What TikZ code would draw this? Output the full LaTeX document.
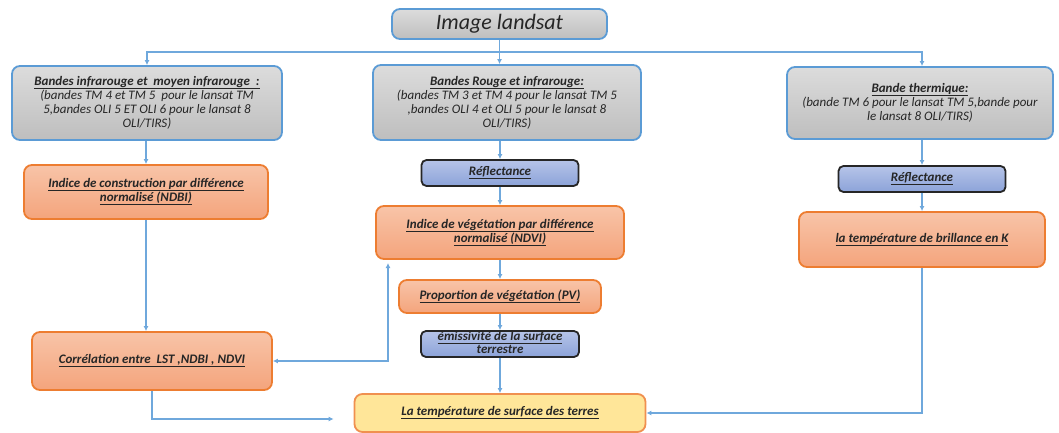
\documentclass[tikz,border=0pt]{standalone}
\usepackage{fontspec}
\setmainfont{Carlito}
\usetikzlibrary{arrows.meta}

\definecolor{bordbleu}{HTML}{5B9BD5}
\definecolor{gris1}{HTML}{DCDCDC}
\definecolor{gris2}{HTML}{BEBEBE}
\definecolor{oran1}{HTML}{F8C4A8}
\definecolor{oran2}{HTML}{F4A47C}
\definecolor{bordoran}{HTML}{ED7D31}
\definecolor{bleu1}{HTML}{B6C4E8}
\definecolor{bleu2}{HTML}{8CA3D9}
\definecolor{jaune}{HTML}{FFE699}
\definecolor{lienbleu}{HTML}{6FA8DC}

\newcommand{\souligne}[1]{\underline{\raisebox{0pt}[\height][1.2pt]{\textbf{#1}}}}

\begin{document}
\begin{tikzpicture}[x=1pt,y=-1pt,
    boite/.style={rounded corners=8pt, line width=1.8pt, inner sep=0pt, align=center,
        text=black!85, font=\fontsize{13}{14}\selectfont\itshape},
    boitegris/.style={boite, draw=bordbleu, top color=gris1, bottom color=gris2},
    boiteorange/.style={boite, draw=bordoran, top color=oran1, bottom color=oran2},
    boitebleue/.style={boite, rounded corners=5pt, draw=black!85, top color=bleu1, bottom color=bleu2},
    boitejaune/.style={boite, draw=bordoran!85, fill=jaune},
    lien/.style={draw=lienbleu, line width=1.2pt},
    fleche/.style={lien, -{Latex[length=5pt,width=5pt]}},
    double/.style={lien, {Latex[length=5pt,width=5pt]}-{Latex[length=5pt,width=5pt]}}]
    \useasboundingbox (0,0) rectangle (1059,433);

    % Image de depart
    \node[boitegris, minimum width=215, minimum height=30, font=\fontsize{22}{24}\selectfont\itshape]
        (titre) at (499.5,24) {Image landsat};

    % Les trois groupes de bandes
    \node[boitegris, minimum width=270, minimum height=74] (infra) at (147,103)
        {\souligne{Bandes infrarouge et\ \ moyen infrarouge\ \ :}\\
         (bandes TM 4 et TM 5\ \ pour le lansat TM\\
         5,bandes OLI 5 ET OLI 6 pour le lansat 8\\
         OLI/TIRS)};
    \node[boitegris, minimum width=268, minimum height=75] (rouge) at (507,102.5)
        {\souligne{Bandes Rouge et infrarouge:}\\
         (bandes TM 3 et TM 4 pour le lansat TM 5\\
         ,bandes OLI 4 et OLI 5 pour le lansat 8\\
         OLI/TIRS)};
    \node[boitegris, minimum width=266, minimum height=72] (therm) at (920,103)
        {\souligne{Bande thermique:}\\
         (bande TM 6 pour le lansat TM 5,bande pour\\
         le lansat 8 OLI/TIRS)};

    % Colonne gauche
    \node[boiteorange, minimum width=244, minimum height=54] (ndbi) at (146,192)
        {\souligne{Indice de construction par différence}\\\souligne{normalisé (NDBI)}};
    \node[boiteorange, minimum width=240, minimum height=58] (correl) at (152,361)
        {\souligne{Corrélation entre\ \ LST ,NDBI , NDVI}};

    % Colonne du milieu
    \node[boitebleue, minimum width=157, minimum height=26] (reflA) at (500,173)
        {\souligne{Réflectance}};
    \node[boiteorange, minimum width=248, minimum height=53] (ndvi) at (500,232.5)
        {\souligne{Indice de végétation par différence}\\\souligne{normalisé (NDVI)}};
    \node[boiteorange, minimum width=202, minimum height=33] (pv) at (500,296.5)
        {\souligne{Proportion de végétation (PV)}};
    \node[boitebleue, minimum width=158, minimum height=26, font=\fontsize{13}{13}\selectfont\itshape]
        (emis) at (500,344) {\souligne{émissivité de la surface}\\\souligne{terrestre}};
    \node[boitejaune, minimum width=291, minimum height=38] (lst) at (500,413)
        {\souligne{La température de surface des terres}};

    % Colonne droite
    \node[boitebleue, minimum width=167, minimum height=26] (reflB) at (922,179)
        {\souligne{Réflectance}};
    \node[boiteorange, minimum width=246, minimum height=55] (brill) at (922,239.5)
        {\souligne{la température de brillance en K}};

    % Liaisons
    \coordinate (haut) at (499.5,52);
    \coordinate (piedndvi) at (388,263);
    \draw[lien] (titre.south) -- (haut);
    \draw[fleche] (haut) -| (infra.north);
    \draw[fleche] (haut) -| (therm.north -| reflB.north);
    \draw[fleche] (haut) -- (rouge.north -| haut);
    \draw[fleche] (infra.south -| ndbi.north) -- (ndbi.north);
    \draw[fleche] (ndbi.south) -- (correl.north -| ndbi.south);
    \draw[fleche] (rouge.south -| reflA.north) -- (reflA.north);
    \draw[fleche] (reflA) -- (ndvi);
    \draw[fleche] (ndvi) -- (pv);
    \draw[fleche] (pv) -- (emis);
    \draw[fleche] (emis) -- (lst);
    \draw[fleche] (therm.south -| reflB.north) -- (reflB.north);
    \draw[fleche] (reflB) -- (brill);
    \draw[fleche] (brill.south) |- (lst.east);
    \draw[double] (piedndvi) |- (correl.east);
    \draw[fleche, shorten >=20pt] (correl.south) |- ([yshift=-6pt]lst.west);
\end{tikzpicture}
\end{document}
